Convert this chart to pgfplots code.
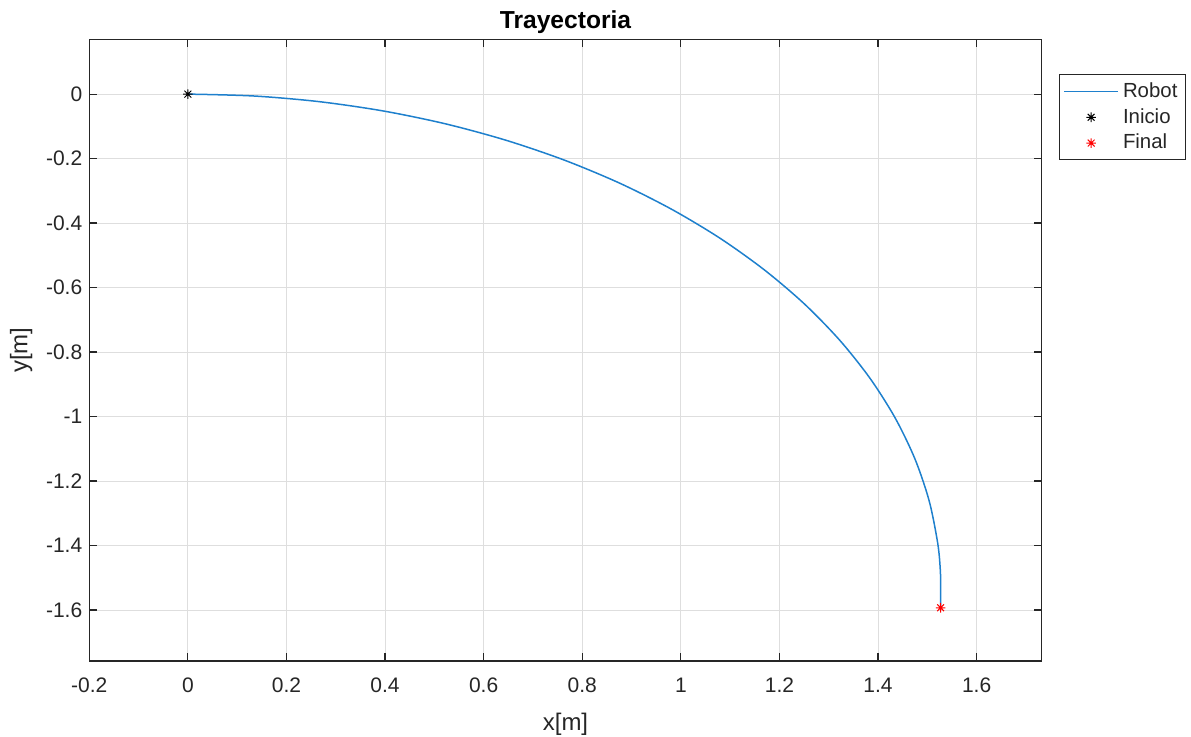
\documentclass[border=0pt]{standalone}
\usepackage{pgfplots}
\pgfplotsset{compat=1.18}
\usepackage{fontspec}
\setmainfont{Liberation Sans}
\definecolor{mblue}{RGB}{30,128,205}
\definecolor{axgray}{RGB}{38,38,38}
\definecolor{gridgray}{RGB}{222,222,222}
\pgfplotsset{
  lineleg/.style={legend image code/.code={\draw[##1, mblue, line width=0.8pt] (0cm,0cm) -- (0.95cm,0cm);}},
  markleg/.style={legend image code/.code={\draw[mark repeat=2,mark phase=2,##1] plot coordinates {(0cm,0cm) (0.475cm,0cm) (0.95cm,0cm)};}},
}
% MATLAB-style eight-armed asterisk
\pgfdeclareplotmark{ast8}{%
  \pgfpathmoveto{\pgfqpoint{0pt}{\pgfplotmarksize}}%
  \pgfpathlineto{\pgfqpoint{0pt}{-\pgfplotmarksize}}%
  \pgfpathmoveto{\pgfqpoint{\pgfplotmarksize}{0pt}}%
  \pgfpathlineto{\pgfqpoint{-\pgfplotmarksize}{0pt}}%
  \pgfpathmoveto{\pgfqpoint{.7071\pgfplotmarksize}{.7071\pgfplotmarksize}}%
  \pgfpathlineto{\pgfqpoint{-.7071\pgfplotmarksize}{-.7071\pgfplotmarksize}}%
  \pgfpathmoveto{\pgfqpoint{.7071\pgfplotmarksize}{-.7071\pgfplotmarksize}}%
  \pgfpathlineto{\pgfqpoint{-.7071\pgfplotmarksize}{.7071\pgfplotmarksize}}%
  \pgfusepathqstroke}

\begin{document}
\begin{tikzpicture}
\useasboundingbox (-44.65pt,-38pt) rectangle (550.85pt,330.5pt);
\begin{axis}[
  scale only axis,
  width=476.2pt, height=310.85pt,
  at={(0,0)}, anchor=south west,
  xmin=-0.2, xmax=1.732, ymin=-1.758, ymax=0.17,
  xtick={-0.2,0,0.2,0.4,0.6,0.8,1,1.2,1.4,1.6},
  ytick={-1.6,-1.4,-1.2,-1,-0.8,-0.6,-0.4,-0.2,0},
  /pgf/number format/assume math mode=true,
  /pgf/number format/fixed,
  tick pos=both, tick align=inside,
  major tick length=4pt,
  axis line style={axgray, line width=0.6pt},
  every tick/.style={axgray, line width=0.6pt},
  grid=major,
  major grid style={gridgray, line width=0.5pt},
  tick label style={font=\fontsize{10.5}{12}\selectfont, text=axgray},
  xticklabel style={yshift=-5pt},
  title={Trayectoria},
  title style={font=\fontsize{12.3}{14}\selectfont\bfseries, text=black, yshift=-6.5pt},
  xlabel={x[m]}, ylabel={y[m]},
  label style={font=\fontsize{12}{14}\selectfont, text=axgray},
  xlabel style={yshift=-3pt},
  legend cell align=left,
  legend style={at={(1.018,0.944)}, anchor=north west,
    draw=axgray, line width=0.5pt,
    font=\fontsize{10.2}{12}\selectfont, text=axgray,
    row sep=0pt, inner sep=2pt},
]
\addplot[mblue, line width=0.75pt, smooth, tension=0.5, lineleg]
  coordinates {
  (0,0) (0.1331,-0.0058) (0.2652,-0.0232) (0.3952,-0.0520)
  (0.5223,-0.0921) (0.6453,-0.1431) (0.7635,-0.2046) (0.8759,-0.2762)
  (0.9815,-0.3573) (1.0798,-0.4473) (1.1697,-0.5455) (1.2509,-0.6511)
  (1.3224,-0.7635) (1.3839,-0.8817) (1.4349,-1.0047) (1.4750,-1.1318)
  (1.5038,-1.2618) (1.5212,-1.3939) (1.5265,-1.48) (1.527,-1.54)
  (1.527,-1.593)
  };
\addlegendentry{Robot}
\addplot[only marks, mark=ast8, mark size=2.4pt, black, line width=0.5pt, markleg]
  coordinates {(0,0)};
\addlegendentry{Inicio}
\addplot[only marks, mark=ast8, mark size=2.4pt, red, line width=0.5pt, markleg]
  coordinates {(1.527,-1.593)};
\addlegendentry{Final}
\end{axis}
\end{tikzpicture}
\end{document}
